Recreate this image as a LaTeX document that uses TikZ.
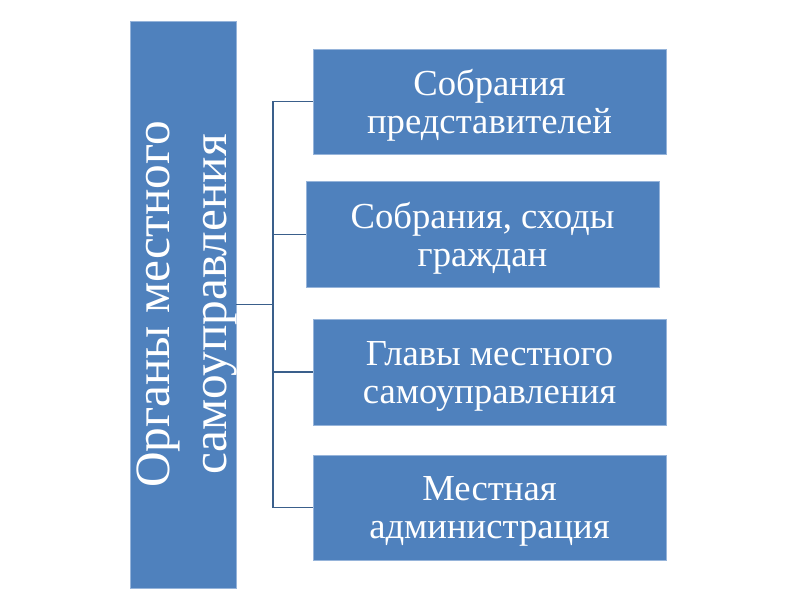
\documentclass[tikz,border=0pt]{standalone}
\usepackage{fontspec}
\setmainfont{Liberation Serif}
\usepackage{xcolor}
\usepackage{tikz}
\usetikzlibrary{positioning,calc}
\definecolor{orgblue}{RGB}{79,129,189}
\definecolor{orgedge}{RGB}{150,180,218}
\definecolor{orgline}{RGB}{58,95,139}

\begin{document}
\begin{tikzpicture}[
    x=0.75pt, y=-0.75pt,
    box/.style={draw=orgedge, line width=0.6pt, fill=orgblue, rectangle, minimum width=264.75pt, minimum height=78.75pt, align=center, text=white, font=\fontsize{27.5}{28.5}\selectfont, text depth=-3.5pt, inner sep=0pt},
    bigbox/.style={draw=orgedge, line width=0.6pt, fill=orgblue, rectangle, minimum width=79.5pt, minimum height=425.25pt, text=white, font=\fontsize{37}{43}\selectfont, inner sep=0pt},
    line/.style={draw=orgline, line width=1.2pt}
]
    \useasboundingbox (0,0) rectangle (800,600);

    % Nodes
    \node[bigbox] (organy) at (183,304.5) {\makebox[0pt]{\hspace*{5pt}\rotatebox{90}{\begin{tabular}{@{}c@{}}Органы местного\\самоуправления\end{tabular}}}};
    \node[box] (sobr) at (489.5,101.5) {Собрания\\представителей};
    \node[box, minimum height=79.5pt] (shody) at (482.5,234.5) {Собрания, сходы\\граждан};
    \node[box, minimum height=79.5pt] (glavy) at (489.5,372) {Главы местного\\самоуправления};
    \node[box] (admin) at (489.5,507.5) {Местная\\администрация};
    \coordinate (bus) at (273,304.5);

    % Connections
    \draw[line] (organy.east) -- (bus);
    \draw[line] (sobr.west) -- (bus |- sobr.west) -- (bus |- admin.west) -- (admin.west);
    \draw[line] (bus |- shody.west) -- (shody.west);
    \draw[line] (bus |- glavy.west) -- (glavy.west);
\end{tikzpicture}
\end{document}
